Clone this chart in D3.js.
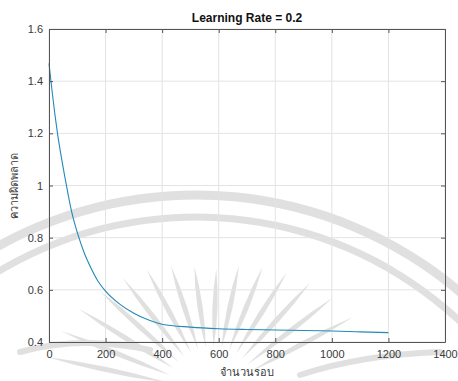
<!DOCTYPE html>
<html>
<head>
<meta charset="utf-8">
<script src="https://cdn.jsdelivr.net/npm/d3@7"></script>
<style>
  html, body { margin: 0; padding: 0; background: #fff; }
  svg { display: block; }
  text { font-family: "Liberation Sans", Arial, sans-serif; }
</style>
</head>
<body>
<svg id="chart" width="458" height="381"></svg>
<script>
// ---- data ----
const iterations = [0, 10, 20, 30, 45, 60, 80, 100, 125, 150, 175, 200, 250, 300, 350, 400, 500, 600, 700, 800, 900, 1000, 1100, 1200];
const errors     = [1.468, 1.37, 1.28, 1.20, 1.10, 1.01, 0.90, 0.82, 0.74, 0.68, 0.63, 0.595, 0.545, 0.51, 0.485, 0.468, 0.457, 0.451, 0.448, 0.446, 0.444, 0.442, 0.439, 0.436];
const xTicks = [0, 200, 400, 600, 800, 1000, 1200, 1400];
const yTicks = [0.4, 0.6, 0.8, 1, 1.2, 1.4, 1.6];
const titleText = "Learning Rate = 0.2";
const xLabel = "จำนวนรอบ";
const yLabel = "ความผิดพลาด";

const svg = d3.select("#chart");
const W = 458, H = 381;
const m = { left: 49, right: 13, top: 29, bottom: 39 };
const pw = W - m.left - m.right, ph = H - m.top - m.bottom;

// faint watermark (background logo) behind the chart
const wm = svg.append("g").attr("opacity", 0.55);
const acx = 196, acy = 603;
[[408, 9], [386, 7]].forEach(([r, w]) => {
  wm.append("path")
    .attr("fill", "#c8c8c8")
    .attr("d", d3.arc()({ innerRadius: r - w / 2, outerRadius: r + w / 2, startAngle: -Math.PI * 0.36, endAngle: Math.PI * 0.42 }))
    .attr("transform", `translate(${acx},${acy})`);
});
// fan of tapered rays
const rcx = 212, rcy = 392;
d3.range(-78, 72, 10).forEach(deg => {
  const a = deg * Math.PI / 180;
  const r0 = 45, r1 = 122 + Math.abs(deg) * 0.6, hw = 2.6;
  const ux = Math.sin(a), uy = -Math.cos(a), px = -uy, py = ux;
  const p0 = [rcx + r0 * ux, rcy + r0 * uy], p1 = [rcx + r1 * ux, rcy + r1 * uy];
  const mid = [(p0[0] + p1[0]) / 2, (p0[1] + p1[1]) / 2];
  const path = `M${p0[0]},${p0[1]} Q${mid[0] + hw * px * 2},${mid[1] + hw * py * 2} ${p1[0]},${p1[1]} Q${mid[0] - hw * px * 2},${mid[1] - hw * py * 2} ${p0[0]},${p0[1]}Z`;
  wm.append("path").attr("d", path).attr("fill", "#c8c8c8");
});
// lower sweeping strokes
wm.append("path").attr("fill", "none").attr("stroke", "#c8c8c8").attr("stroke-width", 6).attr("stroke-linecap", "round")
  .attr("d", "M20,352 Q80,335 150,350");
wm.append("path").attr("fill", "none").attr("stroke", "#c8c8c8").attr("stroke-width", 6).attr("stroke-linecap", "round")
  .attr("d", "M300,375 Q360,355 440,352");

const x = d3.scaleLinear().domain([0, 1400]).range([m.left, m.left + pw]);
const y = d3.scaleLinear().domain([0.4, 1.6]).range([m.top + ph, m.top]);

const g = svg.append("g");

// grid
g.append("g").selectAll("line").data(xTicks).join("line")
  .attr("x1", d => x(d)).attr("x2", d => x(d))
  .attr("y1", m.top).attr("y2", m.top + ph)
  .attr("stroke", "#e3e3e3").attr("stroke-width", 1);
g.append("g").selectAll("line").data(yTicks).join("line")
  .attr("y1", d => y(d)).attr("y2", d => y(d))
  .attr("x1", m.left).attr("x2", m.left + pw)
  .attr("stroke", "#e3e3e3").attr("stroke-width", 1);

// line
const line = d3.line().x((d, i) => x(iterations[i])).y(d => y(d)).curve(d3.curveMonotoneX);
g.append("path").datum(errors)
  .attr("fill", "none").attr("stroke", "#2389b8").attr("stroke-width", 1.1)
  .attr("d", line);

// axes (MATLAB style: ticks inside on all four sides)
const fmt = d => String(d);
const styleAxis = sel => {
  sel.select(".domain").attr("stroke", "#555");
  sel.selectAll(".tick line").attr("stroke", "#555");
  sel.selectAll("text").attr("fill", "#3a3a3a").style("font-size", "11px");
};
svg.append("g").attr("transform", `translate(0,${m.top + ph})`)
  .call(d3.axisBottom(x).tickValues(xTicks).tickFormat(fmt).tickSizeInner(-4).tickSizeOuter(0).tickPadding(8))
  .call(styleAxis);
svg.append("g").attr("transform", `translate(0,${m.top})`)
  .call(d3.axisTop(x).tickValues(xTicks).tickFormat("").tickSizeInner(-4).tickSizeOuter(0))
  .call(styleAxis);
svg.append("g").attr("transform", `translate(${m.left},0)`)
  .call(d3.axisLeft(y).tickValues(yTicks).tickFormat(fmt).tickSizeInner(-4).tickSizeOuter(0).tickPadding(6))
  .call(styleAxis);
svg.append("g").attr("transform", `translate(${m.left + pw},0)`)
  .call(d3.axisRight(y).tickValues(yTicks).tickFormat("").tickSizeInner(-4).tickSizeOuter(0))
  .call(styleAxis);

// title & labels
svg.append("text").attr("x", m.left + pw / 2).attr("y", 22)
  .attr("text-anchor", "middle").attr("font-weight", "bold").style("font-size", "12px")
  .attr("fill", "#111").text(titleText);
svg.append("text").attr("x", m.left + pw / 2).attr("y", 376)
  .attr("text-anchor", "middle").style("font-size", "11px").attr("fill", "#3a3a3a").text(xLabel);
svg.append("text").attr("transform", `translate(18,${m.top + ph / 2}) rotate(-90)`)
  .attr("text-anchor", "middle").style("font-size", "11px").attr("fill", "#3a3a3a").text(yLabel);
</script>
</body>
</html>
